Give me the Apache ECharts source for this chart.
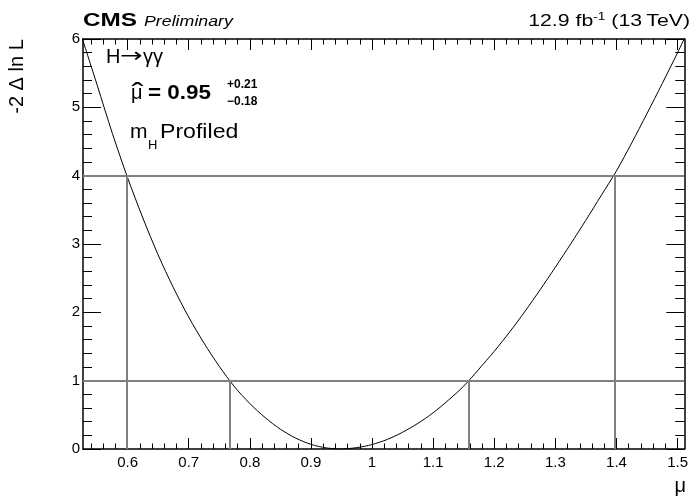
<!DOCTYPE html>
<html>
<head>
<meta charset="utf-8">
<script src="https://cdn.jsdelivr.net/npm/echarts@6/dist/echarts.min.js"></script>
<style>
  html, body { margin: 0; padding: 0; background: #ffffff; }
  #chart { width: 691px; height: 500px; }
</style>
</head>
<body>
<div id="chart"></div>
<script>
// Likelihood scan of the signal strength (m_H profiled)
const muScan = [
  0.525, 0.55, 0.575, 0.6, 0.625, 0.65, 0.675, 0.7, 0.725, 0.75, 0.775, 0.8,
  0.825, 0.85, 0.875, 0.9, 0.925, 0.947, 0.975, 1.0, 1.025, 1.05, 1.075, 1.1,
  1.125, 1.15, 1.175, 1.2, 1.225, 1.25, 1.275, 1.3, 1.325, 1.35, 1.375, 1.4,
  1.425, 1.45, 1.475, 1.5, 1.515
];
const deltaNLL = [
  6.03, 5.33, 4.62, 3.97, 3.38, 2.84, 2.36, 1.93, 1.55, 1.21, 0.91, 0.665,
  0.46, 0.29, 0.16, 0.068, 0.016, 0.0, 0.02, 0.065, 0.14, 0.245, 0.375, 0.53,
  0.715, 0.92, 1.17, 1.43, 1.71, 2.01, 2.33, 2.66, 3.00, 3.35, 3.71, 4.07,
  4.48, 4.91, 5.35, 5.80, 6.08
];

// Axis range and labelled ticks
const muRange = [0.527, 1.511];
const xTickValues = [0.6, 0.7, 0.8, 0.9, 1.0, 1.1, 1.2, 1.3, 1.4, 1.5];
const xTickLabels = ['0.6', '0.7', '0.8', '0.9', '1', '1.1', '1.2', '1.3', '1.4', '1.5'];
const yTickLabels = ['0', '1', '2', '3', '4', '5', '6'];

// Confidence levels and where the scan crosses them
const sigmaLevels = [1, 4];
const crossings1 = [0.767, 1.159];
const crossings2 = [0.598, 1.397];

// Best-fit value and its uncertainties, as printed
const bestFitText = '0.95';
const errUpText = '+0.21';
const errDownText = '\u22120.18';

// Minor x ticks every 0.02 between the labelled ones
const xMinorValues = [];
for (let k = 27; k <= 75; k++) {
  if (k % 5 !== 0) xMinorValues.push(Math.round(k * 2) / 100);
}

const FONT = '"Liberation Sans", Arial, Helvetica, sans-serif';
const GRAY = '#808080';

const chart = echarts.init(document.getElementById('chart'), null, { renderer: 'canvas' });

function xAxisDef(position, values, len, showLabels) {
  return {
    type: 'value', position: position, min: muRange[0], max: muRange[1],
    axisLine: { show: showLabels !== null, lineStyle: { color: '#000', width: 1.5 } },
    axisTick: { show: true, inside: true, length: len, customValues: values,
                lineStyle: { color: '#000', width: 1 } },
    axisLabel: showLabels ? {
      show: true, customValues: xTickValues, margin: 6,
      color: '#000', fontSize: 15, fontFamily: FONT,
      formatter: function (v) {
        const i = xTickValues.findIndex(function (t) { return Math.abs(t - v) < 1e-6; });
        return i >= 0 ? xTickLabels[i] : '';
      }
    } : { show: false },
    splitLine: { show: false }
  };
}

function yAxisDef(position, showLabels) {
  return {
    type: 'value', position: position, min: 0, max: 6, interval: 1,
    axisLine: { show: true, lineStyle: { color: '#000', width: 1.5 } },
    axisTick: { show: true, inside: true, length: 18, lineStyle: { color: '#000', width: 1 } },
    minorTick: { show: true, splitNumber: 5, length: 9, lineStyle: { color: '#000', width: 1 } },
    axisLabel: showLabels ? {
      show: true, margin: 3, color: '#000', fontSize: 15, fontFamily: FONT,
      formatter: function (v) { return yTickLabels[Math.round(v)]; }
    } : { show: false },
    splitLine: { show: false }
  };
}

const verticalSegments = [];
crossings2.forEach(function (x) {
  verticalSegments.push([{ coord: [x, 0] }, { coord: [x, sigmaLevels[1]] }]);
});
crossings1.forEach(function (x) {
  verticalSegments.push([{ coord: [x, 0] }, { coord: [x, sigmaLevels[0]] }]);
});

function label(x, y, text, font, extra) {
  const el = { type: 'text', x: x, y: y,
    style: { text: text, font: font, fill: '#000', align: 'left', verticalAlign: 'middle' } };
  if (extra) Object.keys(extra).forEach(function (k) {
    if (k === 'align') el.style.align = extra[k]; else el[k] = extra[k];
  });
  return el;
}

const option = {
  animation: false,
  backgroundColor: '#ffffff',
  grid: { left: 83, right: 4, top: 39, bottom: 51, containLabel: false },
  xAxis: [
    xAxisDef('bottom', xTickValues, 11, true),
    xAxisDef('bottom', xMinorValues, 5.5, null),
    xAxisDef('top', xTickValues, 11, false),
    xAxisDef('top', xMinorValues, 5.5, null)
  ],
  yAxis: [
    yAxisDef('left', true),
    yAxisDef('right', false)
  ],
  series: [
    {
      type: 'line', name: 'levels', data: [], z: 1,
      markLine: {
        silent: true, symbol: ['none', 'none'], animation: false,
        label: { show: false },
        lineStyle: { color: GRAY, width: 2, type: 'solid' },
        data: sigmaLevels.map(function (v) { return { yAxis: v }; }).concat(verticalSegments)
      }
    },
    {
      type: 'line', name: 'scan', z: 3,
      data: muScan.map(function (m, i) { return [m, deltaNLL[i]]; }),
      smooth: 0.3, showSymbol: false, symbol: 'none',
      lineStyle: { color: '#000', width: 1 },
      clip: true
    }
  ],
  graphic: [
    label(83, 20.5, 'CMS', 'bold 19px ' + FONT, { scaleX: 1.28 }),
    label(144, 22.5, 'Preliminary', 'italic 14px ' + FONT, { scaleX: 1.27 }),
    { type: 'text', x: 690, y: 21, scaleX: 1.25,
      style: {
        text: '{a|12.9 fb}{s|-1}{a| (13\u2009TeV)}', align: 'right', verticalAlign: 'middle', fill: '#000',
        rich: {
          a: { fontSize: 17, fontFamily: FONT, lineHeight: 20, fill: '#000' },
          s: { fontSize: 11, fontFamily: FONT, lineHeight: 5, verticalAlign: 'top', fill: '#000' }
        }
      } },
    // H -> gamma gamma
    label(106, 57.5, 'H', '20px ' + FONT),
    label(120, 57, '\u2192', '20px "DejaVu Sans", ' + FONT, { scaleX: 1.35 }),
    label(143, 57.5, '\u03b3\u03b3', '20px ' + FONT),
    // mu-hat = 0.95 with asymmetric errors
    label(131, 93, '\u03bc', '20px ' + FONT),
    label(137.5, 94, '\u02c6', '28px ' + FONT, { align: 'center', scaleX: 1.3 }),
    label(148, 93, '= ' + bestFitText, 'bold 20px ' + FONT, { scaleX: 1.12 }),
    label(227, 84.7, errUpText, 'bold 12px ' + FONT),
    label(227, 101.7, errDownText, 'bold 12px ' + FONT),
    // m_H Profiled
    label(130, 132.5, 'm', '21px ' + FONT),
    label(148, 145, 'H', '13px ' + FONT),
    label(160, 132.5, 'Profiled', '21px ' + FONT, { scaleX: 1.1 }),
    // axis titles
    label(17, 76.5, '-2 \u0394 ln L', '20px ' + FONT, { align: 'center', rotation: Math.PI / 2 }),
    label(686, 486, '\u03bc', '20px ' + FONT, { align: 'right' })
  ]
};

chart.setOption(option);
</script>
</body>
</html>
